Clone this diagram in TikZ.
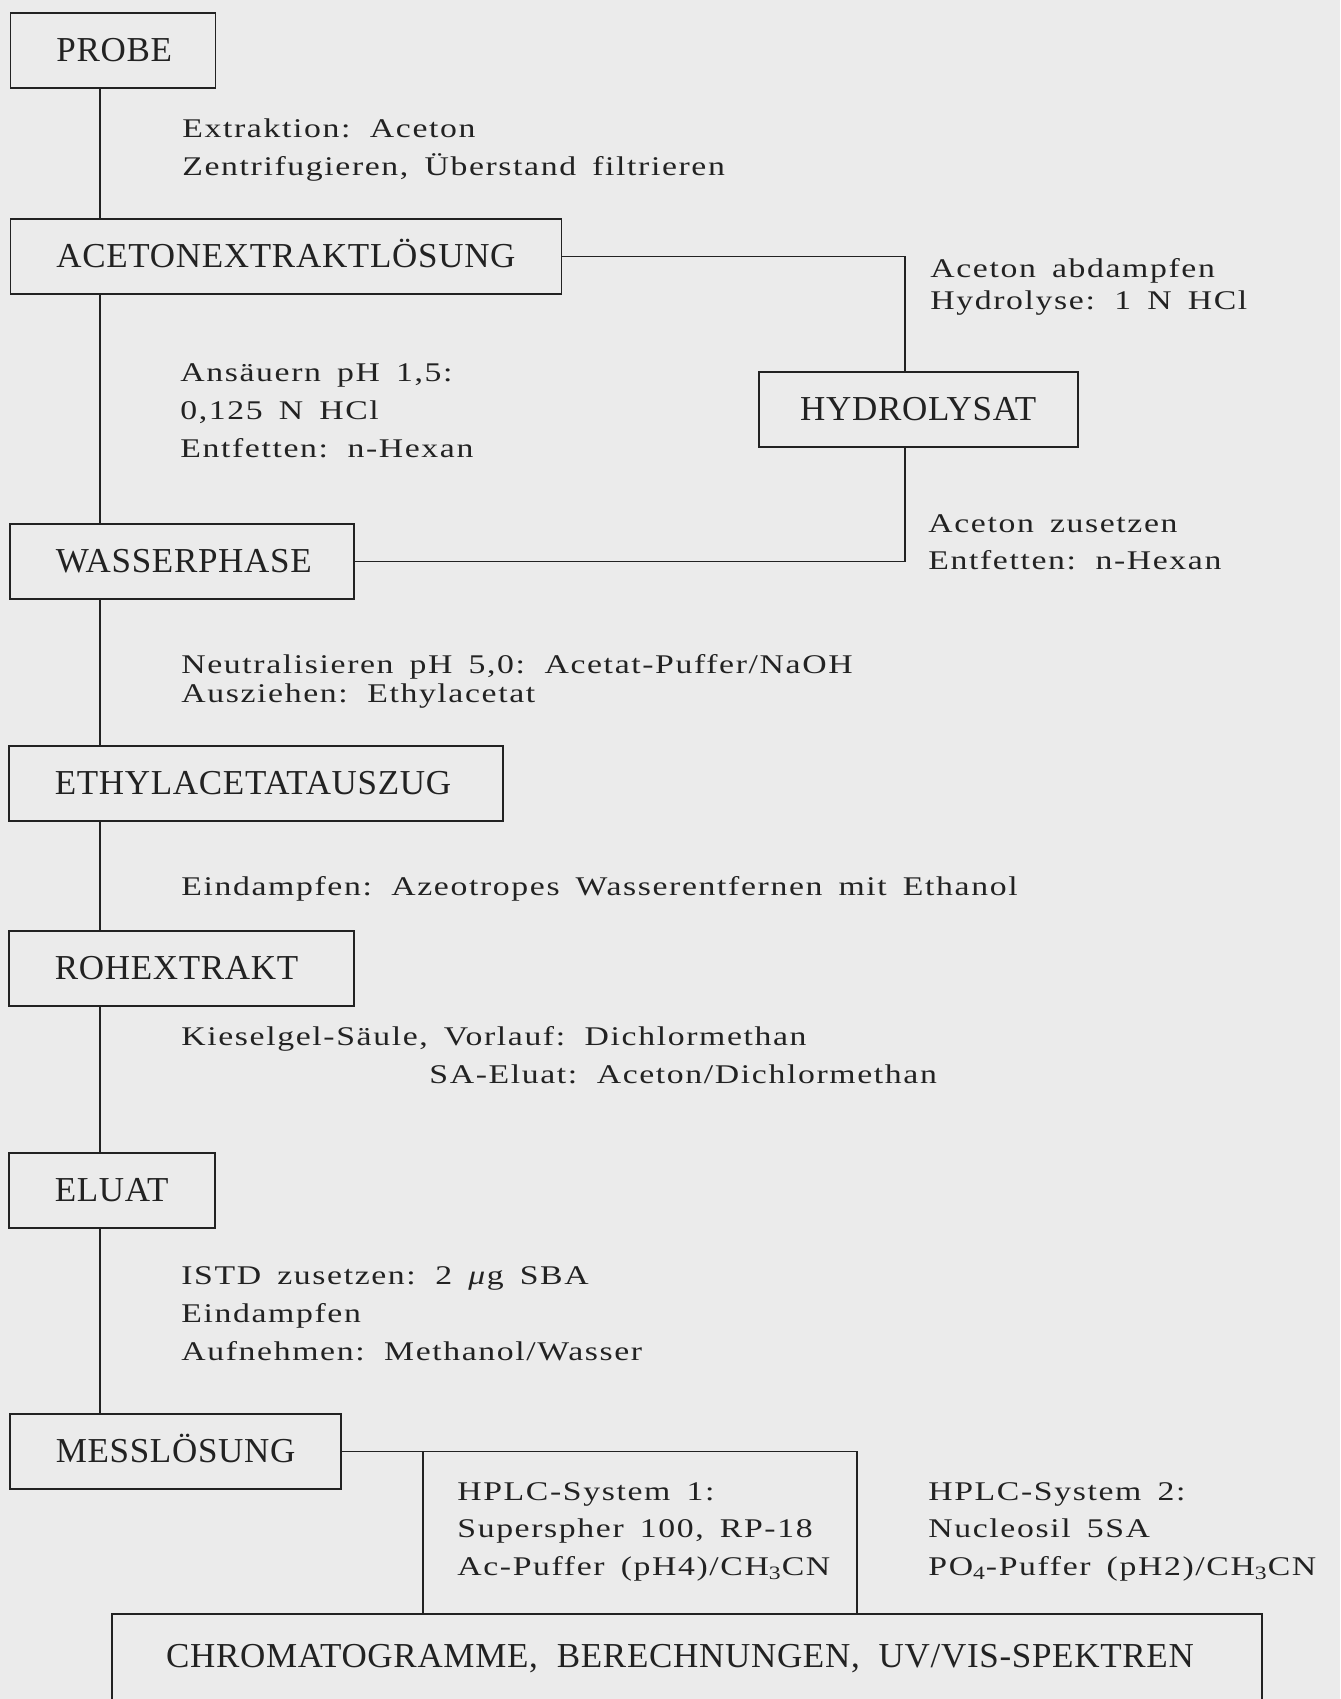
\documentclass[tikz,border=0pt]{standalone}
\usepackage{fontspec}
\setmainfont{Liberation Serif}
\newfontfamily\bodyfont[FakeStretch=1.25,LetterSpace=6,WordSpace=1.6]{Liberation Serif}
\newfontfamily\boxfont[LetterSpace=2,WordSpace=2]{Liberation Serif}
\definecolor{ink}{HTML}{222222}
\definecolor{paper}{HTML}{EBEBEB}
\begin{document}
\begin{tikzpicture}[x=0.5pt,y=-0.5pt,
  wire/.style={draw=ink, line width=0.8pt},
  stage/.style={draw=ink, line width=0.8pt, rectangle, anchor=north west,
    minimum height=37.5pt, text height=11.5pt, text depth=0pt,
    inner xsep=23pt, inner ysep=0pt, align=left, text width=#1,
    font=\boxfont\fontsize{17.5pt}{21pt}\selectfont, text=ink},
  lbl/.style={anchor=base west, inner sep=0pt, align=left, text=ink,
    font=\bodyfont\fontsize{13.5pt}{#1}\selectfont},
  lbl/.default=19pt]
\fill[paper] (0,0) rectangle (1340,1699);
\useasboundingbox (0,0) rectangle (1340,1699);
\clip (0,0) rectangle (1340,1699);
\coordinate (spine) at (100,0);
\coordinate (hx) at (905,0);
\coordinate (v1) at (423,0);
\coordinate (v2) at (857,0);
% stages
\node[stage=56.5pt] (probe) at (9.6,12) {PROBE};
\node[stage=229.5pt] (aceton) at (9.6,218) {ACETONEXTRAKTLÖSUNG};
\node[stage=126pt] (wasser) at (9,523) {WASSERPHASE};
\node[stage=201pt] (ethyl) at (8,745) {ETHYLACETATAUSZUG};
\node[stage=126.5pt] (roh) at (8,930) {ROHEXTRAKT};
\node[stage=57pt] (eluat) at (8,1152) {ELUAT};
\node[stage=119.5pt] (mess) at (9,1413) {MESSLÖSUNG};
\node[draw=ink, line width=0.8pt, rectangle, anchor=north west,
  minimum width=159.5pt, minimum height=37.5pt, text height=11.5pt, text depth=0pt,
  inner sep=0pt, font=\boxfont\fontsize{17.5pt}{21pt}\selectfont, text=ink]
  (hydro) at (758,371) {HYDROLYSAT};
\node[draw=ink, line width=0.8pt, rectangle, anchor=north,
  minimum width=575pt, text height=11.5pt, text depth=20pt,
  inner xsep=0pt, inner ysep=15.5pt, font=\boxfont\fontsize{17.5pt}{21pt}\selectfont, text=ink]
  (result) at (687,1613) {CHROMATOGRAMME, BERECHNUNGEN, UV/VIS-SPEKTREN\hspace*{7pt}};
% labels (anchored at the baseline of their last line)
\node[lbl] (ext) at (182,175) {Extraktion: Aceton\\Zentrifugieren, Überstand filtrieren};
\node[lbl=16pt] (abd) at (930,309) {Aceton abdampfen\\Hydrolyse: 1 N HCl};
\node[lbl] (ans) at (180,457) {Ansäuern pH 1,5:\\0,125 N HCl\\Entfetten: n-Hexan};
\node[lbl=18.5pt] (zus) at (928,569) {Aceton zusetzen\\Entfetten: n-Hexan};
\node[lbl=14.5pt] (neu) at (181,702) {Neutralisieren pH 5,0: Acetat-Puffer/NaOH\\Ausziehen: Ethylacetat};
\node[lbl] (ein) at (181,895) {Eindampfen: Azeotropes Wasserentfernen mit Ethanol};
\node[lbl] (kie) at (181,1083) {Kieselgel-Säule, Vorlauf: Dichlormethan\\\hspace*{124pt}SA-Eluat: Aceton/Dichlormethan};
\node[lbl] (istd) at (181,1360) {ISTD zusetzen: 2 \textit{μ}g SBA\\Eindampfen\\Aufnehmen: Methanol/Wasser};
\node[lbl=18.75pt] (hplca) at (457,1575) {HPLC-System 1:\\Superspher 100, RP-18\\Ac-Puffer (pH4)/CH\textsubscript{3}CN};
\node[lbl=18.75pt] (hplcb) at (928,1575) {HPLC-System 2:\\Nucleosil 5SA\\PO\textsubscript{4}-Puffer (pH2)/CH\textsubscript{3}CN};
% connectors
\draw[wire] (probe.south -| spine) -- (aceton.north -| spine);
\draw[wire] (aceton.south -| spine) -- (wasser.north -| spine);
\draw[wire] (wasser.south -| spine) -- (ethyl.north -| spine);
\draw[wire] (ethyl.south -| spine) -- (roh.north -| spine);
\draw[wire] (roh.south -| spine) -- (eluat.north -| spine);
\draw[wire] (eluat.south -| spine) -- (mess.north -| spine);
\draw[wire] (aceton.east) -- (aceton.east -| hx) -- (hydro.north -| hx);
\draw[wire] (hydro.south -| hx) -- (wasser.east -| hx) -- (wasser.east);
\draw[wire] (mess.east) -- (mess.east -| v2) -- (result.north -| v2);
\draw[wire] (mess.east -| v1) -- (result.north -| v1);
\end{tikzpicture}
\end{document}
